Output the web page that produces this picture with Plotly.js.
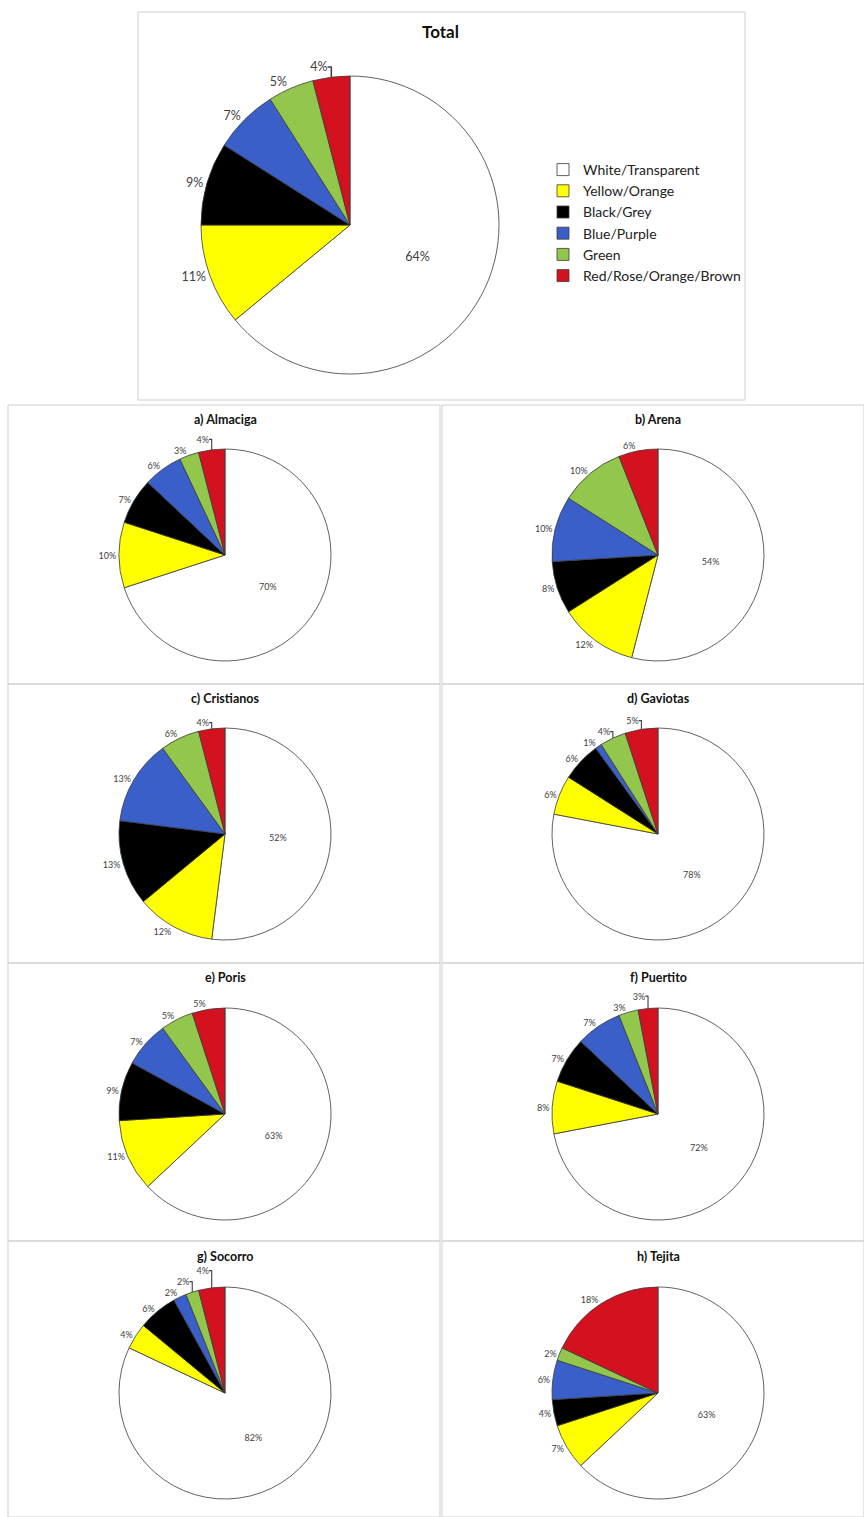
<!DOCTYPE html>
<html>
<head>
<meta charset="utf-8">
<script src="https://cdn.plot.ly/plotly-3.0.1.min.js"></script>
<style>html,body{margin:0;padding:0;background:#fff;}#chart{width:864px;height:1517px;}</style>
</head>
<body>
<div id="chart"></div>
<script>
// ---- data ----
const categories = ["White/Transparent", "Yellow/Orange", "Black/Grey", "Blue/Purple", "Green", "Red/Rose/Orange/Brown"];
const colors = ["#ffffff", "#ffff00", "#000000", "#3a5fc9", "#92c64c", "#d4121f"];

const totalTitle = "Total";
const totalValues = [64, 11, 9, 7, 5, 4];

const beachTitles = ["a) Almaciga", "b) Arena", "c) Cristianos", "d) Gaviotas", "e) Poris", "f) Puertito", "g) Socorro", "h) Tejita"];
const almaciga   = [70, 10, 7, 6, 3, 4];
const arena      = [54, 12, 8, 10, 10, 6];
const cristianos = [52, 12, 13, 13, 6, 4];
const gaviotas   = [78, 6, 6, 1, 4, 5];
const poris      = [63, 11, 9, 7, 5, 5];
const puertito   = [72, 8, 7, 7, 3, 3];
const socorro    = [82, 4, 6, 2, 2, 4];
const tejita     = [63, 7, 4, 6, 2, 18];
const beachValues = [almaciga, arena, cristianos, gaviotas, poris, puertito, socorro, tejita];

// ---- layout helpers (pixels -> paper) ----
const W = 864, H = 1517;
const px = x => x / W;
const py = y => 1 - y / H;
const FONT = "Lato, 'Open Sans', sans-serif";

function pieTrace(values, cx, cy, r, fs, showLegend) {
  return {
    type: "pie",
    labels: categories,
    values: values,
    sort: false,
    direction: "clockwise",
    rotation: 0,
    marker: { colors: colors, line: { color: "#3a3a3a", width: 0.8 } },
    texttemplate: "%{value}%",
    textposition: values.map((v, i) => i === 0 ? "inside" : "outside"),
    insidetextorientation: "horizontal",
    textfont: { family: FONT, size: fs, color: "#404040" },
    outsidetextfont: { family: FONT, size: fs, color: "#404040" },
    insidetextfont: { family: FONT, size: fs, color: "#404040" },
    domain: { x: [px(cx - r), px(cx + r)], y: [py(cy + r), py(cy - r)] },
    showlegend: showLegend,
    hoverinfo: "none"
  };
}

const traces = [pieTrace(totalValues, 350, 225, 149, 12.5, true)];
const annotations = [{
  text: "<b>" + totalTitle + "</b>", x: px(441), y: py(32), xref: "paper", yref: "paper",
  xanchor: "center", yanchor: "middle",
  showarrow: false, font: { family: FONT, size: 17, color: "#111" }
}];
const shapes = [{
  type: "rect", xref: "paper", yref: "paper",
  x0: px(138), x1: px(745), y0: py(400), y1: py(12),
  line: { color: "#cfcfcf", width: 1 }
}];

const colLeft = [8, 442], colRight = [440, 864];
const colCx = [225, 658];
const rowTop = [405, 684, 963, 1241];
const rowBottom = [684, 963, 1241, 1517];
const rowCy = [555, 834, 1114, 1393];
const rowTitleY = [419, 698, 977, 1256];

beachValues.forEach((vals, k) => {
  const row = Math.floor(k / 2), col = k % 2;
  traces.push(pieTrace(vals, colCx[col], rowCy[row], 106, 9, false));
  annotations.push({
    text: "<b>" + beachTitles[k] + "</b>", x: px(colCx[col]), y: py(rowTitleY[row]),
    xref: "paper", yref: "paper", xanchor: "center", yanchor: "middle", showarrow: false,
    font: { family: FONT, size: 12.5, color: "#111" }
  });
  shapes.push({
    type: "rect", xref: "paper", yref: "paper",
    x0: px(colLeft[col]), x1: px(colRight[col]), y0: py(rowBottom[row]), y1: py(rowTop[row]),
    line: { color: "#cfcfcf", width: 1 }
  });
});

const layout = {
  width: W, height: H,
  margin: { l: 0, r: 0, t: 0, b: 0 },
  paper_bgcolor: "#ffffff",
  plot_bgcolor: "#ffffff",
  showlegend: true,
  legend: {
    x: px(543), y: py(154), xanchor: "left", yanchor: "top",
    font: { family: FONT, size: 14, color: "#222" },
    bgcolor: "rgba(0,0,0,0)", traceorder: "normal"
  },
  annotations: annotations,
  shapes: shapes
};

Plotly.newPlot("chart", traces, layout, { staticPlot: true });
</script>
</body>
</html>
